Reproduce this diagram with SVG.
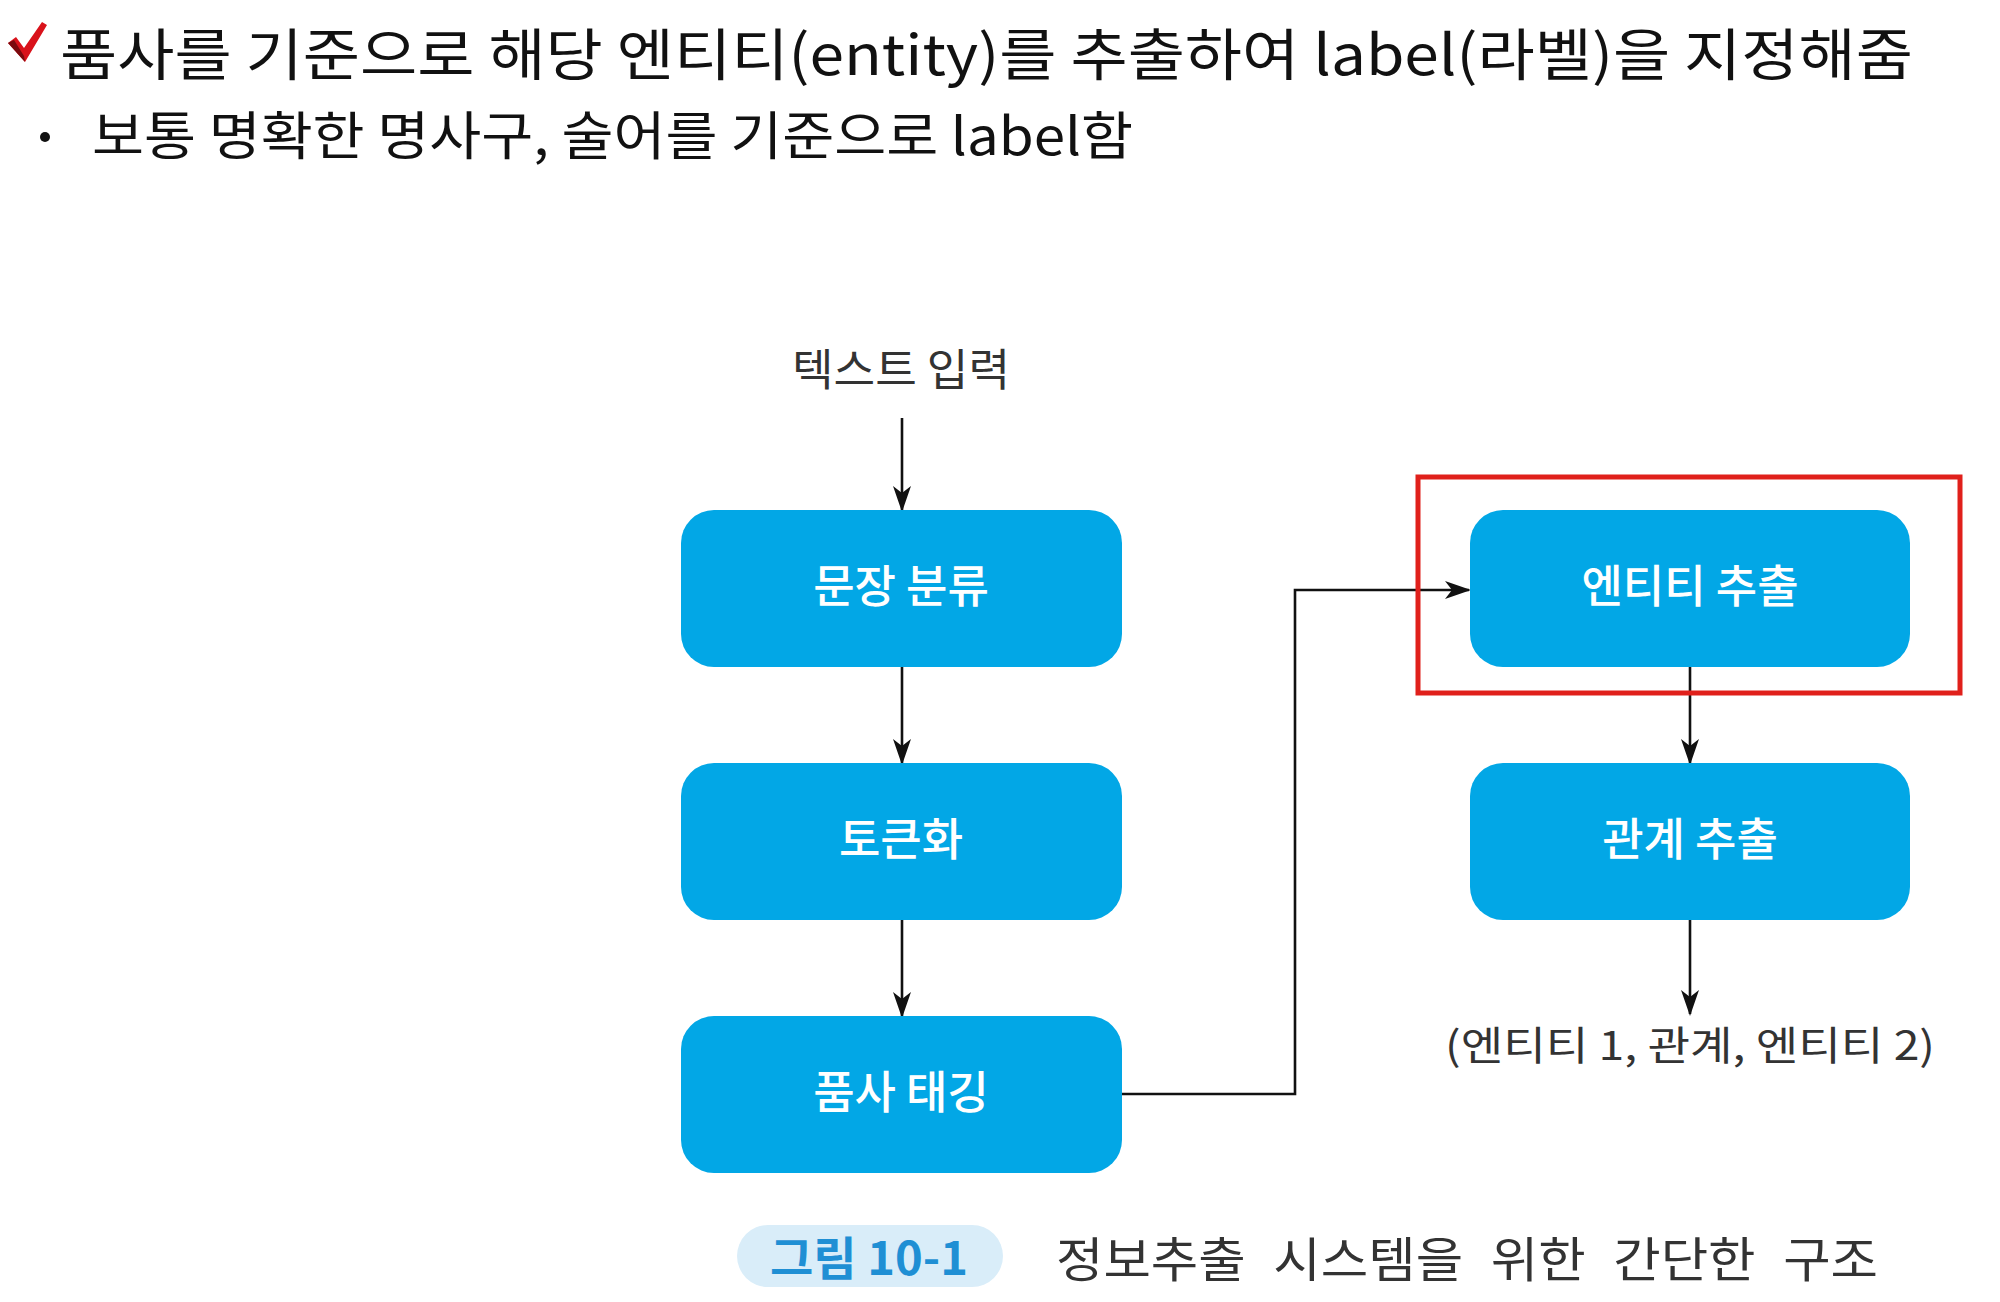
<svg xmlns="http://www.w3.org/2000/svg" width="2000" height="1302" viewBox="0 0 2000 1302">
  <defs>
    <marker id="arr" viewBox="0 0 26 18" refX="24" refY="9" markerWidth="26" markerHeight="18" markerUnits="userSpaceOnUse" orient="auto">
      <path d="M0,0 L26,9 L0,18 L7,9 Z" fill="#111"/>
    </marker>
  </defs>
  <style>
    .title { font-family: "Noto Sans CJK KR", "Liberation Sans", sans-serif; fill: #111; }
    .box { fill: #02a7e6; }
    .lbl { font-family: "Noto Sans CJK KR", "Liberation Sans", sans-serif; font-size: 45px; font-weight: 500; fill: #ffffff; text-anchor: middle; }
    .txt { font-family: "Noto Sans CJK KR", "Liberation Sans", sans-serif; fill: #333; }
    .conn { stroke: #111; stroke-width: 2.6; fill: none; }
  </style>
  <rect width="2000" height="1302" fill="#ffffff"/>

  <g id="header">
    <path d="M8,43 L16,37 L24,48 L42,22 L47,25 L25,62 Z" fill="#d9121b"/>
    <path d="M8,43 L14,40 L24,56 L25,62 Z" fill="#7a0a0e"/>
    <text class="title" x="60" y="75" font-size="56" textLength="1853" lengthAdjust="spacingAndGlyphs">품사를 기준으로 해당 엔티티(entity)를 추출하여 label(라벨)을 지정해줌</text>
    <circle cx="45" cy="137" r="5" fill="#111"/>
    <text class="title" x="92" y="155" font-size="52" textLength="1041" lengthAdjust="spacingAndGlyphs">보통 명확한 명사구, 술어를 기준으로 label함</text>
  </g>

  <g id="input-label">
    <text class="txt" x="792" y="386" font-size="44" textLength="218" lengthAdjust="spacingAndGlyphs">텍스트 입력</text>
  </g>

  <g id="connectors">
    <line class="conn" x1="902" y1="418" x2="902" y2="510" marker-end="url(#arr)"/>
    <line class="conn" x1="902" y1="667" x2="902" y2="763" marker-end="url(#arr)"/>
    <line class="conn" x1="902" y1="920" x2="902" y2="1016" marker-end="url(#arr)"/>
    <polyline class="conn" points="1122,1094 1295,1094 1295,590 1469,590" marker-end="url(#arr)"/>
    <line class="conn" x1="1690" y1="667" x2="1690" y2="763" marker-end="url(#arr)"/>
    <line class="conn" x1="1690" y1="920" x2="1690" y2="1014" marker-end="url(#arr)"/>
  </g>

  <g id="node-sentence">
    <rect class="box" x="681" y="510" width="441" height="157" rx="33"/>
    <text class="lbl" x="901" y="603">문장 분류</text>
  </g>
  <g id="node-token">
    <rect class="box" x="681" y="763" width="441" height="157" rx="33"/>
    <text class="lbl" x="901" y="856">토큰화</text>
  </g>
  <g id="node-pos">
    <rect class="box" x="681" y="1016" width="441" height="157" rx="33"/>
    <text class="lbl" x="901" y="1109">품사 태깅</text>
  </g>
  <g id="node-entity">
    <rect class="box" x="1470" y="510" width="440" height="157" rx="33"/>
    <text class="lbl" x="1690" y="603">엔티티 추출</text>
  </g>
  <g id="node-relation">
    <rect class="box" x="1470" y="763" width="440" height="157" rx="33"/>
    <text class="lbl" x="1690" y="856">관계 추출</text>
  </g>

  <g id="highlight">
    <rect x="1418" y="477" width="542" height="216" fill="none" stroke="#e0201b" stroke-width="5"/>
  </g>

  <g id="output-label">
    <text class="txt" x="1445" y="1060" font-size="40" textLength="490" lengthAdjust="spacingAndGlyphs">(엔티티 1, 관계, 엔티티 2)</text>
  </g>

  <g id="caption">
    <rect x="737" y="1225" width="266" height="62" rx="31" fill="#d9edf9"/>
    <text x="770" y="1275" font-family="'Noto Sans CJK KR', 'Liberation Sans', sans-serif" font-size="46" font-weight="bold" fill="#1f8fd4" textLength="198" lengthAdjust="spacingAndGlyphs">그림 10-1</text>
    <text class="txt" x="1056" y="1277" font-size="48" word-spacing="15" textLength="822" lengthAdjust="spacingAndGlyphs">정보추출 시스템을 위한 간단한 구조</text>
  </g>
</svg>
